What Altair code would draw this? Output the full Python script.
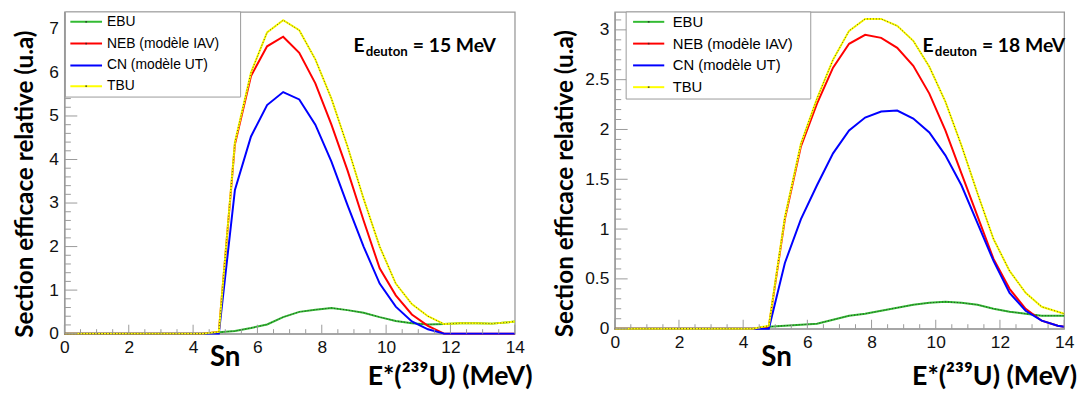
import altair as alt
import pandas as pd
import numpy as np

# ---------------- data ----------------
E = [0.0, 0.3, 0.8, 1.3, 1.8, 2.3, 2.8, 3.3, 3.8, 4.3,
     4.8, 5.3, 5.8, 6.3, 6.8, 7.3, 7.8, 8.3, 8.8, 9.3,
     9.8, 10.3, 10.8, 11.3, 11.8, 12.3, 12.8, 13.3, 13.8, 14.0]

series_names = ["EBU", "NEB (modèle IAV)", "CN (modèle UT)", "TBU"]
series_colors = ["#33bb33", "#ff0000", "#0000ff", "#ffff00"]

# E_deuton = 15 MeV
ebu_15 = [0, 0, 0, 0, 0, 0, 0, 0, 0, 0,
          0.03, 0.06, 0.13, 0.21, 0.38, 0.50, 0.55, 0.59, 0.54, 0.48,
          0.38, 0.29, 0.24, 0.21, 0.22, 0.24, 0.24, 0.23, 0.26, 0.28]
neb_15 = [0, 0, 0, 0, 0, 0, 0, 0, 0, 0,
          0.04, 4.35, 5.92, 6.60, 6.82, 6.45, 5.75, 4.80, 3.75, 2.60,
          1.50, 0.88, 0.44, 0.18, 0.0, 0, 0, 0, 0, 0]
cn_15 = [0, 0, 0, 0, 0, 0, 0, 0, 0, 0,
         0.0, 3.30, 4.53, 5.25, 5.55, 5.38, 4.80, 3.95, 2.95, 2.00,
         1.15, 0.62, 0.28, 0.10, 0.0, 0, 0, 0, 0, 0]
tbu_15 = [0, 0, 0, 0, 0, 0, 0, 0, 0, 0,
          0.04, 4.40, 6.00, 6.92, 7.20, 6.97, 6.30, 5.40, 4.30, 3.10,
          2.00, 1.15, 0.68, 0.40, 0.22, 0.24, 0.24, 0.23, 0.26, 0.28]

# E_deuton = 18 MeV
ebu_18 = [0, 0, 0, 0, 0, 0, 0, 0, 0, 0,
          0.02, 0.03, 0.04, 0.05, 0.09, 0.13, 0.15, 0.18, 0.21, 0.24,
          0.26, 0.27, 0.26, 0.24, 0.20, 0.17, 0.15, 0.13, 0.13, 0.13]
neb_18 = [0, 0, 0, 0, 0, 0, 0, 0, 0, 0,
          0.02, 1.10, 1.83, 2.26, 2.62, 2.86, 2.95, 2.92, 2.82, 2.64,
          2.36, 1.99, 1.56, 1.13, 0.70, 0.40, 0.20, 0.08, 0.03, 0.02]
cn_18 = [0, 0, 0, 0, 0, 0, 0, 0, 0, 0,
         0.0, 0.66, 1.10, 1.44, 1.76, 1.99, 2.12, 2.18, 2.19, 2.11,
         1.97, 1.74, 1.44, 1.06, 0.68, 0.36, 0.18, 0.08, 0.03, 0.02]
tbu_18 = [0, 0, 0, 0, 0, 0, 0, 0, 0, 0,
          0.03, 1.12, 1.86, 2.31, 2.70, 2.99, 3.11, 3.11, 3.04, 2.89,
          2.63, 2.28, 1.84, 1.36, 0.90, 0.58, 0.36, 0.22, 0.17, 0.15]

x_major = [0, 2, 4, 6, 8, 10, 12, 14]
y_major_15 = [0, 1, 2, 3, 4, 5, 6, 7]
y_major_18 = [0, 0.5, 1, 1.5, 2, 2.5, 3]

y_title = "Section efficace relative (u.a)"
x_title = "E*(²³⁹U) (MeV)"
sn_label = "Sn"

GRAY = "#9a9a9a"
LABEL_FONT = "Liberation Sans"
TITLE_FONT = "Lato"


def one_text(s, x, y, size, align="left", baseline="alphabetic", font=TITLE_FONT, weight="bold"):
    return alt.Chart(pd.DataFrame({"s": [s]})).mark_text(
        align=align, baseline=baseline, font=font, fontSize=size,
        fontWeight=weight, color="black"
    ).encode(x=alt.value(x), y=alt.value(y), text="s:N")


def panel(values, ymax, W, H, ymajor, yminor_step, ytitle_x, ytitle_y,
          leg, ann_x, energy, sn_x, xtitle_right):
    xs = alt.Scale(domain=[0, 14], nice=False, zero=False)
    ys = alt.Scale(domain=[0, ymax], nice=False, zero=False)
    xaxis = alt.Axis(values=x_major, ticks=False, grid=False, domainColor=GRAY,
                     domainWidth=1.3, labelFont=LABEL_FONT, labelFontSize=17.5,
                     labelColor="#111", labelPadding=5, labelFlush=False,
                     labelOverlap=False, title=None, format="~g")
    yaxis = alt.Axis(values=ymajor, ticks=False, grid=False, domainColor=GRAY,
                     domainWidth=1.3, labelFont=LABEL_FONT, labelFontSize=17.5,
                     labelColor="#111", labelPadding=6, labelOverlap=False,
                     format="~g", title=y_title, titleFont=TITLE_FONT,
                     titleFontSize=24.5, titleFontWeight="bold", titleColor="black",
                     titleAngle=270, titleX=ytitle_x, titleY=ytitle_y,
                     titleAlign="center", titleBaseline="middle")

    layers = []
    # curves
    for name, col, vals in zip(series_names, series_colors, values):
        df = pd.DataFrame({"E": E, "v": vals})
        layers.append(alt.Chart(df).mark_line(color=col, strokeWidth=2).encode(
            x=alt.X("E:Q", scale=xs, axis=xaxis), y=alt.Y("v:Q", scale=ys, axis=yaxis)))
        if name in ("EBU", "TBU"):
            layers.append(alt.Chart(df).mark_line(color="#222222", strokeWidth=1,
                                                  strokeDash=[1, 2], opacity=0.8).encode(
                x=alt.X("E:Q", scale=xs, axis=xaxis), y=alt.Y("v:Q", scale=ys, axis=yaxis)))

    # inward ticks (drawn through the same scales)
    xt_minor = [float(t) for t in np.arange(0, 14.001, 0.5) if abs(t / 2 - round(t / 2)) > 1e-6]
    layers.append(alt.Chart(pd.DataFrame({"E": xt_minor})).mark_rule(color=GRAY, strokeWidth=1).encode(
        x=alt.X("E:Q", scale=xs, axis=xaxis), y=alt.value(H), y2=alt.value(H - 4.5)))
    layers.append(alt.Chart(pd.DataFrame({"E": x_major})).mark_rule(color=GRAY, strokeWidth=1).encode(
        x=alt.X("E:Q", scale=xs, axis=xaxis), y=alt.value(H), y2=alt.value(H - 9)))
    ymaj_step = ymajor[1] - ymajor[0]
    yt_all = np.round(np.arange(0, ymax, yminor_step), 4)
    yt_minor = [float(t) for t in yt_all if abs(t / ymaj_step - round(t / ymaj_step)) > 1e-6]
    layers.append(alt.Chart(pd.DataFrame({"v": yt_minor})).mark_rule(color=GRAY, strokeWidth=1).encode(
        y=alt.Y("v:Q", scale=ys, axis=yaxis), x=alt.value(0), x2=alt.value(6.5)))
    layers.append(alt.Chart(pd.DataFrame({"v": ymajor})).mark_rule(color=GRAY, strokeWidth=1).encode(
        y=alt.Y("v:Q", scale=ys, axis=yaxis), x=alt.value(0), x2=alt.value(13)))

    # legend box
    lx0, lx1, ly1, sx0, sx1, tx, rows, fs = leg
    layers.append(alt.Chart(pd.DataFrame({"a": [0]})).mark_rect(
        fill="white", stroke=GRAY, strokeWidth=1).encode(
        x=alt.value(lx0), x2=alt.value(lx1), y=alt.value(0), y2=alt.value(ly1)))
    for name, col, ry in zip(series_names, series_colors, rows):
        layers.append(alt.Chart(pd.DataFrame({"a": [0]})).mark_rule(color=col, strokeWidth=2).encode(
            x=alt.value(sx0), x2=alt.value(sx1), y=alt.value(ry)))
        if name != "CN (modèle UT)":
            layers.append(alt.Chart(pd.DataFrame({"a": [0]})).mark_point(
                shape="square", size=3, filled=True, color="#222222").encode(
                x=alt.value((sx0 + sx1) / 2), y=alt.value(ry)))
        layers.append(one_text(name, tx, ry, fs, baseline="middle", font=LABEL_FONT, weight="normal"))

    # annotation E_deuton = xx MeV
    layers.append(one_text("E", ann_x, 40, 19.5))
    layers.append(one_text("deuton", ann_x + 12.4, 44.5, 13.4))
    layers.append(one_text("= " + energy + " MeV", ann_x + 60, 40, 19.5))
    # Sn and x title
    layers.append(one_text(sn_label, sn_x, 358, 28))
    layers.append(one_text(x_title, xtitle_right, 377, 27, align="right"))

    return alt.layer(*layers).properties(width=W, height=H)


left = panel([ebu_15, neb_15, cn_15, tbu_15], 7.39, 455, 325, y_major_15, 0.2,
             -39.5, 173.5,
             (1, 178, 86, 6, 38, 43, [10, 32, 54, 75], 14),
             292, "15", 147, 473)
right = panel([ebu_18, neb_18, cn_18, tbu_18], 3.18, 454, 320, y_major_18, 0.1,
              -50, 173,
              (11.5, 198, 88, 18.5, 50, 58.5, [10, 32, 54, 76], 15),
              311, "18", 148, 467)

chart = alt.hconcat(left, right, spacing=101, bounds="flush").properties(
    padding={"left": 3, "top": 0, "right": 0, "bottom": 0}
).configure_view(stroke=GRAY, strokeWidth=1.3)

chart.save("out.html", embed_options={"renderer": "svg", "actions": False})
